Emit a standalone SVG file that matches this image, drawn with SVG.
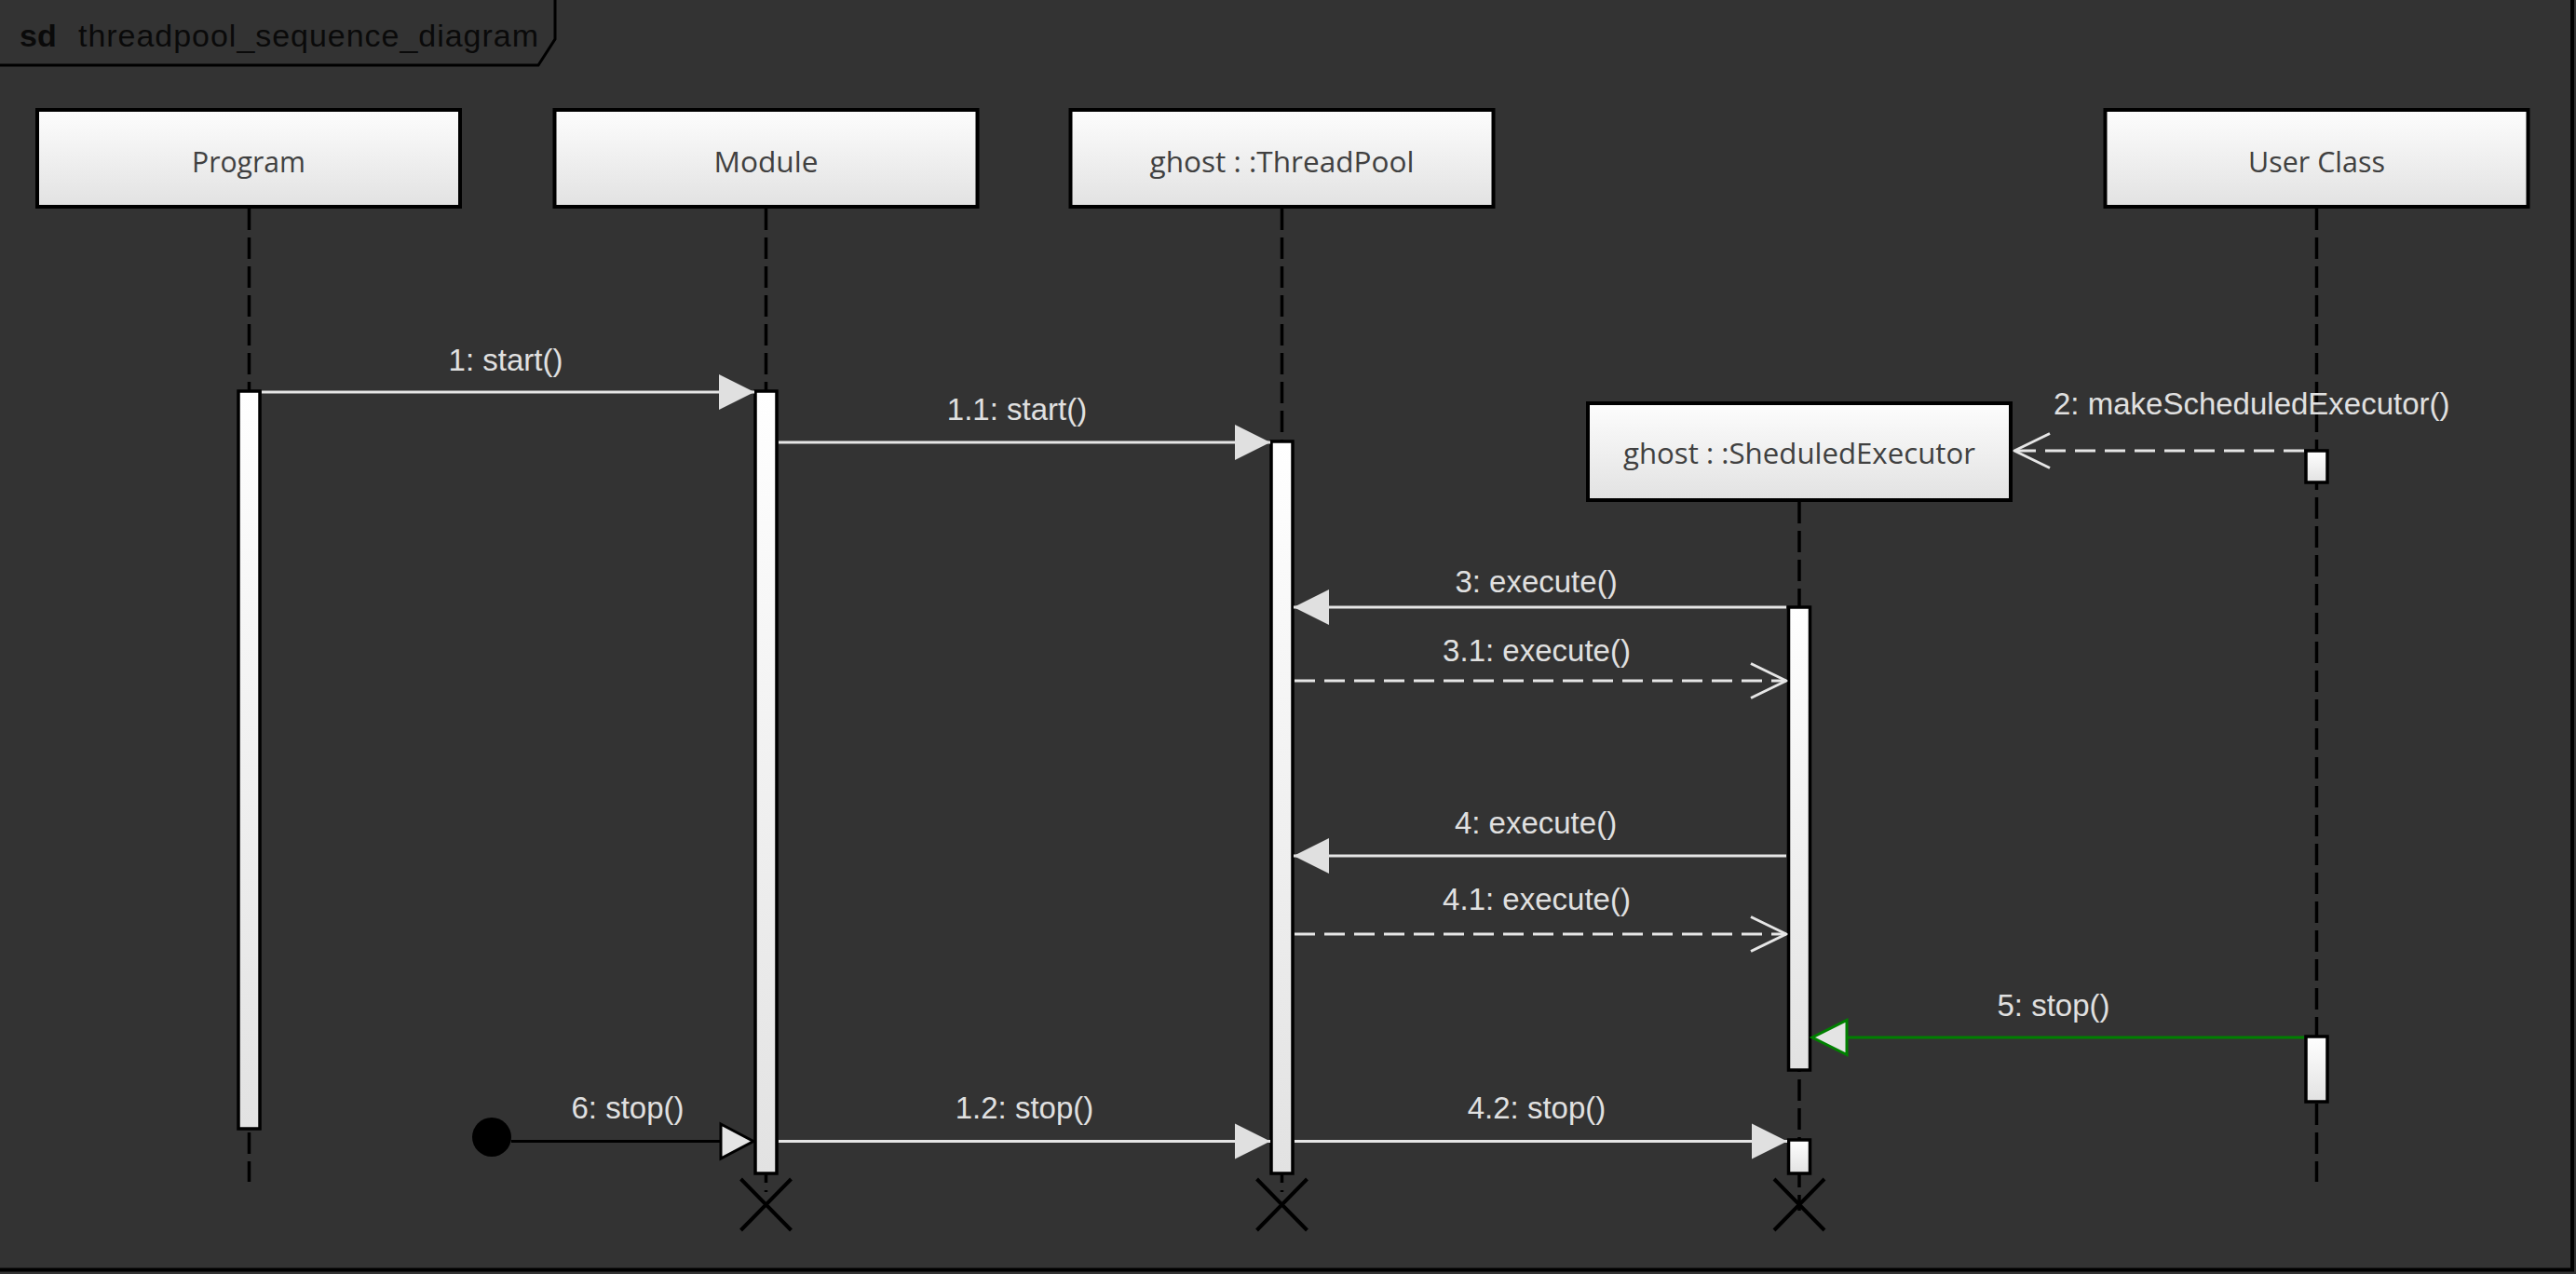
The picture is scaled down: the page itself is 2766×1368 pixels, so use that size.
<svg xmlns="http://www.w3.org/2000/svg" width="2766" height="1368" viewBox="0 0 2766 1368">
<style>
.head{stroke:#000;stroke-width:4;fill:url(#gHead)}
.bar{stroke:#000;stroke-width:3.5;fill:url(#gBar)}
.life{stroke:#000;stroke-width:3.5;stroke-dasharray:23 8;fill:none}
.htxt{font-family:"Open Sans","Noto Sans",sans-serif;font-size:31px;fill:#404040;text-anchor:middle}
.lbl{font-family:"Liberation Sans",Arial,sans-serif;font-size:33px;fill:#e0e0e0;text-anchor:middle}
.msg{stroke:#e6e6e6;stroke-width:3;fill:none}
.ret{stroke:#e6e6e6;stroke-width:3;fill:none;stroke-dasharray:22 10}
.kill{stroke:#000;stroke-width:4}
</style>
<defs>
<linearGradient id="gHead" x1="0" y1="0" x2="0" y2="1">
<stop offset="0" stop-color="#fdfdfd"/><stop offset="1" stop-color="#e2e2e2"/>
</linearGradient>
<linearGradient id="gBar" x1="0" y1="0" x2="0" y2="1">
<stop offset="0" stop-color="#ffffff"/><stop offset="1" stop-color="#e2e2e2"/>
</linearGradient>
<marker id="aFill" markerUnits="userSpaceOnUse" markerWidth="40" markerHeight="40" viewBox="0 0 40 40" refX="38" refY="19" orient="auto" overflow="visible">
<path d="M0,0 L38,19 L0,38 Z" fill="#e0e0e0" stroke="none"/>
</marker>
<marker id="aOpen" markerUnits="userSpaceOnUse" markerWidth="40" markerHeight="40" viewBox="0 0 40 40" refX="38" refY="18.5" orient="auto" overflow="visible">
<path d="M0,0 L38,18.5 L0,37" fill="none" stroke="#e6e6e6" stroke-width="3" stroke-dasharray="none" stroke-linejoin="round"/>
</marker>
<marker id="aGreen" markerUnits="userSpaceOnUse" markerWidth="40" markerHeight="40" viewBox="0 0 40 40" refX="37" refY="18.5" orient="auto" overflow="visible">
<path d="M0,0 L37,18.5 L0,37 Z" fill="#e4e4e4" stroke="#008000" stroke-width="3"/>
</marker>
<marker id="aBlack" markerUnits="userSpaceOnUse" markerWidth="40" markerHeight="40" viewBox="0 0 40 40" refX="35" refY="18.5" orient="auto" overflow="visible">
<path d="M0,0 L35,18.5 L0,37 Z" fill="#e4e4e4" stroke="#000" stroke-width="3"/>
</marker>
</defs>
<rect x="0" y="0" width="2766" height="1368" fill="#333333"/>
<g id="frame">
<rect x="-2" y="-2" width="2764" height="1365.5" fill="none" stroke="#000" stroke-width="4"/>
<path d="M0,70 H578 L596,42 V0" fill="none" stroke="#000" stroke-width="3"/>
<text x="21" y="50" font-family="'Liberation Sans',Arial,sans-serif" font-size="34" font-weight="bold" fill="#0a0a0a">sd</text>
<text x="84" y="50" font-family="'Liberation Sans',Arial,sans-serif" font-size="34" fill="#0a0a0a" textLength="494" lengthAdjust="spacing">threadpool_sequence_diagram</text>
</g>
<g id="lifelines">
<line class="life" x1="267.5" y1="224" x2="267.5" y2="1269"/>
<line class="life" x1="822.5" y1="224" x2="822.5" y2="1280"/>
<line class="life" x1="1376.5" y1="224" x2="1376.5" y2="1280"/>
<line class="life" x1="1932" y1="539" x2="1932" y2="1300"/>
<line class="life" x1="2487.5" y1="224" x2="2487.5" y2="1269"/>
</g>
<g id="program">
<rect class="head" x="40" y="118" width="454" height="104"/>
<text class="htxt" x="267" y="185" textLength="122" lengthAdjust="spacingAndGlyphs">Program</text>
<rect class="bar" x="256" y="420" width="23" height="792"/>
</g>
<g id="module">
<rect class="head" x="595.5" y="118" width="454" height="104"/>
<text class="htxt" x="822.5" y="185" textLength="112" lengthAdjust="spacingAndGlyphs">Module</text>
<rect class="bar" x="811" y="420" width="23" height="840"/>
<path class="kill" d="M795.5,1266 L849.5,1321 M849.5,1266 L795.5,1321"/>
</g>
<g id="threadpool">
<rect class="head" x="1149.5" y="118" width="454" height="104"/>
<text class="htxt" x="1376.5" y="185" textLength="284" lengthAdjust="spacingAndGlyphs">ghost : :ThreadPool</text>
<rect class="bar" x="1365" y="474" width="23" height="786"/>
<path class="kill" d="M1349.5,1266 L1403.5,1321 M1403.5,1266 L1349.5,1321"/>
</g>
<g id="scheduledexecutor">
<rect class="head" x="1705" y="433" width="454" height="104"/>
<text class="htxt" x="1932" y="498" textLength="378" lengthAdjust="spacingAndGlyphs">ghost : :SheduledExecutor</text>
<rect class="bar" x="1920.5" y="652" width="23" height="497"/>
<rect class="bar" x="1920.5" y="1224" width="23" height="36"/>
<path class="kill" d="M1905,1266 L1959,1321 M1959,1266 L1905,1321"/>
</g>
<g id="userclass">
<rect class="head" x="2260.5" y="118" width="454" height="104"/>
<text class="htxt" x="2487.5" y="185" textLength="147" lengthAdjust="spacingAndGlyphs">User Class</text>
<rect class="bar" x="2476" y="484" width="23" height="34"/>
<rect class="bar" x="2476" y="1113" width="23" height="70"/>
</g>
<g id="connectors">
<path class="msg" d="M281,421 H810" marker-end="url(#aFill)"/>
<path class="msg" d="M836,475 H1364" marker-end="url(#aFill)"/>
<path class="ret" d="M2474,484 H2163" stroke-dasharray="15 14" marker-end="url(#aOpen)"/>
<path class="msg" d="M1918,652 H1389" marker-end="url(#aFill)"/>
<path class="ret" d="M1390,731 H1918" marker-end="url(#aOpen)"/>
<path class="msg" d="M1918,919 H1389" marker-end="url(#aFill)"/>
<path class="ret" d="M1390,1003 H1918" marker-end="url(#aOpen)"/>
<path d="M2474,1114 H1946" fill="none" stroke="#008000" stroke-width="3" marker-end="url(#aGreen)"/>
<circle cx="528" cy="1221" r="21" fill="#000"/>
<path d="M549,1225.5 H809" fill="none" stroke="#000" stroke-width="3" marker-end="url(#aBlack)"/>
<path class="msg" d="M836,1225.5 H1364" marker-end="url(#aFill)"/>
<path class="msg" d="M1390,1225.5 H1919" marker-end="url(#aFill)"/>
</g>
<g id="labels">
<text class="lbl" x="543" y="398">1: start()</text>
<text class="lbl" x="1092" y="451">1.1: start()</text>
<text class="lbl" x="2205" y="445" text-anchor="start" style="text-anchor:start">2: makeScheduledExecutor()</text>
<text class="lbl" x="1649.5" y="636">3: execute()</text>
<text class="lbl" x="1650" y="710">3.1: execute()</text>
<text class="lbl" x="1649" y="895">4: execute()</text>
<text class="lbl" x="1650" y="977">4.1: execute()</text>
<text class="lbl" x="2205" y="1091">5: stop()</text>
<text class="lbl" x="674" y="1201">6: stop()</text>
<text class="lbl" x="1100" y="1201">1.2: stop()</text>
<text class="lbl" x="1650" y="1201">4.2: stop()</text>
</g>
</svg>
